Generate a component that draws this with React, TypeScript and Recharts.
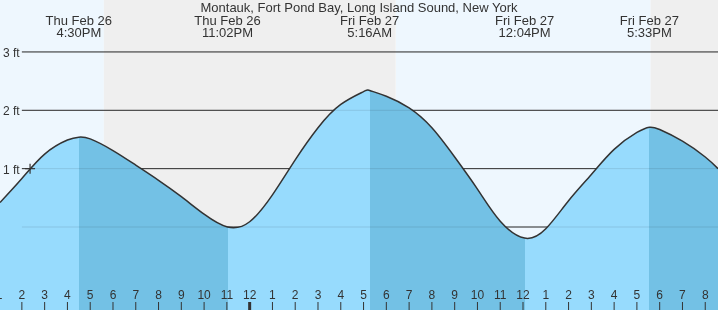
import React from "react";
import {
  ComposedChart,
  Area,
  XAxis,
  YAxis,
  ReferenceArea,
  ReferenceLine,
  ReferenceDot,
} from "recharts";

const FONT = "'Liberation Sans', Arial, sans-serif";
const INK = "#333";

// hours since Thu 00:00, tide height in feet
const tideHours = [
  13.04, 14, 15, 16, 16.5, 17, 18, 19, 20, 21, 22, 23.03, 24, 25, 26, 27, 28, 29, 29.27, 30, 31,
  32, 33, 34, 35, 36.07, 37, 38, 39, 40, 41, 41.55, 42, 43, 44, 44.56,
];
const tideFeet = [
  0.42, 0.83, 1.25, 1.49, 1.54, 1.51, 1.31, 1.06, 0.8, 0.52, 0.22, 0.0, 0.09, 0.55, 1.15, 1.7,
  2.1, 2.32, 2.34, 2.24, 2.04, 1.7, 1.2, 0.65, 0.1, -0.19, -0.03, 0.45, 0.9, 1.33, 1.62, 1.71,
  1.67, 1.47, 1.2, 1.0,
];

const extremeHours = [16.5, 23.03, 29.27, 36.07, 41.55];
const extremeDays = ["Thu Feb 26", "Thu Feb 26", "Fri Feb 27", "Fri Feb 27", "Fri Feb 27"];
const extremeClock = ["4:30PM", "11:02PM", "5:16AM", "12:04PM", "5:33PM"];

const dayBands = [
  [13.04, 17.6],
  [30.41, 41.6],
];
const nightBands = [
  [17.6, 30.41],
  [41.6, 44.56],
];

const feetLines = [3, 2, 1, 0];
const hourTicks = [
  13, 14, 15, 16, 17, 18, 19, 20, 21, 22, 23, 24, 25, 26, 27, 28, 29, 30, 31, 32, 33, 34, 35, 36,
  37, 38, 39, 40, 41, 42, 43, 44,
];

const nowHour = 14.36;
const nowFeet = 1.0;

const X_MIN = 13.04;
const X_MAX = 44.56;
const Y_MIN = -1.422;
const Y_MAX = 3.89;
const LINE_START = 14.0;

const data = tideHours.map((t, i) => ({ t, level: tideFeet[i] }));

const RISING = "#97dbfd";
const FALLING = "#73c1e5";

// hard colour stops: rising light, falling dark, switching at each extreme
const stops: { offset: number; color: string }[] = [];
let current = tideFeet[1] > tideFeet[0] ? RISING : FALLING;
stops.push({ offset: 0, color: current });
extremeHours.forEach((h) => {
  const off = (h - X_MIN) / (X_MAX - X_MIN);
  stops.push({ offset: off, color: current });
  current = current === RISING ? FALLING : RISING;
  stops.push({ offset: off, color: current });
});
stops.push({ offset: 1, color: current });

const App = () => {
  return (
    <div style={{ position: "fixed", left: 0, top: 0, width: 718, height: 310 }}>
      <ComposedChart
        width={718}
        height={310}
        data={data}
        margin={{ top: 0, right: 0, bottom: 0, left: 0 }}
      >
        <defs>
          <linearGradient id="tideFill" x1="0" y1="0" x2="1" y2="0">
            {stops.map((s, i) => (
              <stop key={i} offset={s.offset} stopColor={s.color} />
            ))}
          </linearGradient>
        </defs>
        <XAxis type="number" dataKey="t" domain={[X_MIN, X_MAX]} allowDataOverflow hide />
        <YAxis type="number" domain={[Y_MIN, Y_MAX]} allowDataOverflow hide />
        {dayBands.map((b, i) => (
          <ReferenceArea
            key={"d" + i}
            x1={b[0]}
            x2={b[1]}
            y1={Y_MIN}
            y2={Y_MAX}
            fill="#eef7fe"
            fillOpacity={1}
            stroke="none"
            ifOverflow="visible"
            zIndex={-300}
          />
        ))}
        {nightBands.map((b, i) => (
          <ReferenceArea
            key={"n" + i}
            x1={b[0]}
            x2={b[1]}
            y1={Y_MIN}
            y2={Y_MAX}
            fill="#efefef"
            fillOpacity={1}
            stroke="none"
            ifOverflow="visible"
            zIndex={-300}
          />
        ))}
        {feetLines.map((v) => (
          <ReferenceLine
            key={"g" + v}
            segment={[
              { x: LINE_START, y: v },
              { x: X_MAX, y: v },
            ]}
            stroke={INK}
            strokeWidth={1}
            ifOverflow="visible"
            zIndex={-200}
            label={{
              content: ({ viewBox }: any) => (
                <text x={3} y={viewBox.y + 5} fontSize={12} fill={INK} fontFamily={FONT}>
                  {v + " ft"}
                </text>
              ),
            }}
          />
        ))}
        <Area
          type="natural"
          dataKey="level"
          baseValue={Y_MIN}
          stroke={INK}
          strokeWidth={1.5}
          fill="url(#tideFill)"
          fillOpacity={1}
          isAnimationActive={false}
          dot={false}
          activeDot={false}
          zIndex={100}
        />
        {feetLines.map((v) => (
          <ReferenceLine
            key={"f" + v}
            segment={[
              { x: LINE_START, y: v },
              { x: X_MAX, y: v },
            ]}
            stroke="rgba(0,0,0,0.1)"
            strokeWidth={1}
            ifOverflow="visible"
            zIndex={300}
          />
        ))}
        <ReferenceDot
          x={nowHour}
          y={nowFeet}
          ifOverflow="visible"
          zIndex={400}
          shape={(p: any) => (
            <g stroke={INK} strokeWidth={1.2}>
              <line x1={p.cx - 5} x2={p.cx + 5} y1={p.cy} y2={p.cy} />
              <line x1={p.cx} x2={p.cx} y1={p.cy - 5} y2={p.cy + 5} />
            </g>
          )}
        />
        {hourTicks.map((h) => (
          <ReferenceLine
            key={"h" + h}
            x={h}
            stroke="none"
            ifOverflow="visible"
            zIndex={1500}
            label={{
              content: ({ viewBox }: any) => (
                <g>
                  <line
                    x1={viewBox.x}
                    x2={viewBox.x}
                    y1={302}
                    y2={310}
                    stroke={INK}
                    strokeWidth={h % 24 === 0 ? 3 : 1}
                  />
                  <text
                    x={viewBox.x}
                    y={299}
                    textAnchor="middle"
                    fontSize={12}
                    fill={INK}
                    fontFamily={FONT}
                  >
                    {String(h % 12 === 0 ? 12 : h % 12)}
                  </text>
                </g>
              ),
            }}
          />
        ))}
        {extremeHours.map((h, i) => (
          <ReferenceLine
            key={"e" + i}
            x={h}
            stroke="none"
            ifOverflow="visible"
            zIndex={2000}
            label={{
              content: ({ viewBox }: any) => (
                <g fontSize={13} fill={INK} fontFamily={FONT} textAnchor="middle">
                  <text x={viewBox.x} y={25}>
                    {extremeDays[i]}
                  </text>
                  <text x={viewBox.x} y={37}>
                    {extremeClock[i]}
                  </text>
                </g>
              ),
            }}
          />
        ))}
      </ComposedChart>
      <div
        style={{
          position: "absolute",
          left: 0,
          top: 0,
          width: 718,
          textAlign: "center",
          fontFamily: FONT,
          fontSize: 13,
          lineHeight: "15px",
          color: INK,
          pointerEvents: "none",
        }}
      >
        Montauk, Fort Pond Bay, Long Island Sound, New York
      </div>
    </div>
  );
};

export default App;
